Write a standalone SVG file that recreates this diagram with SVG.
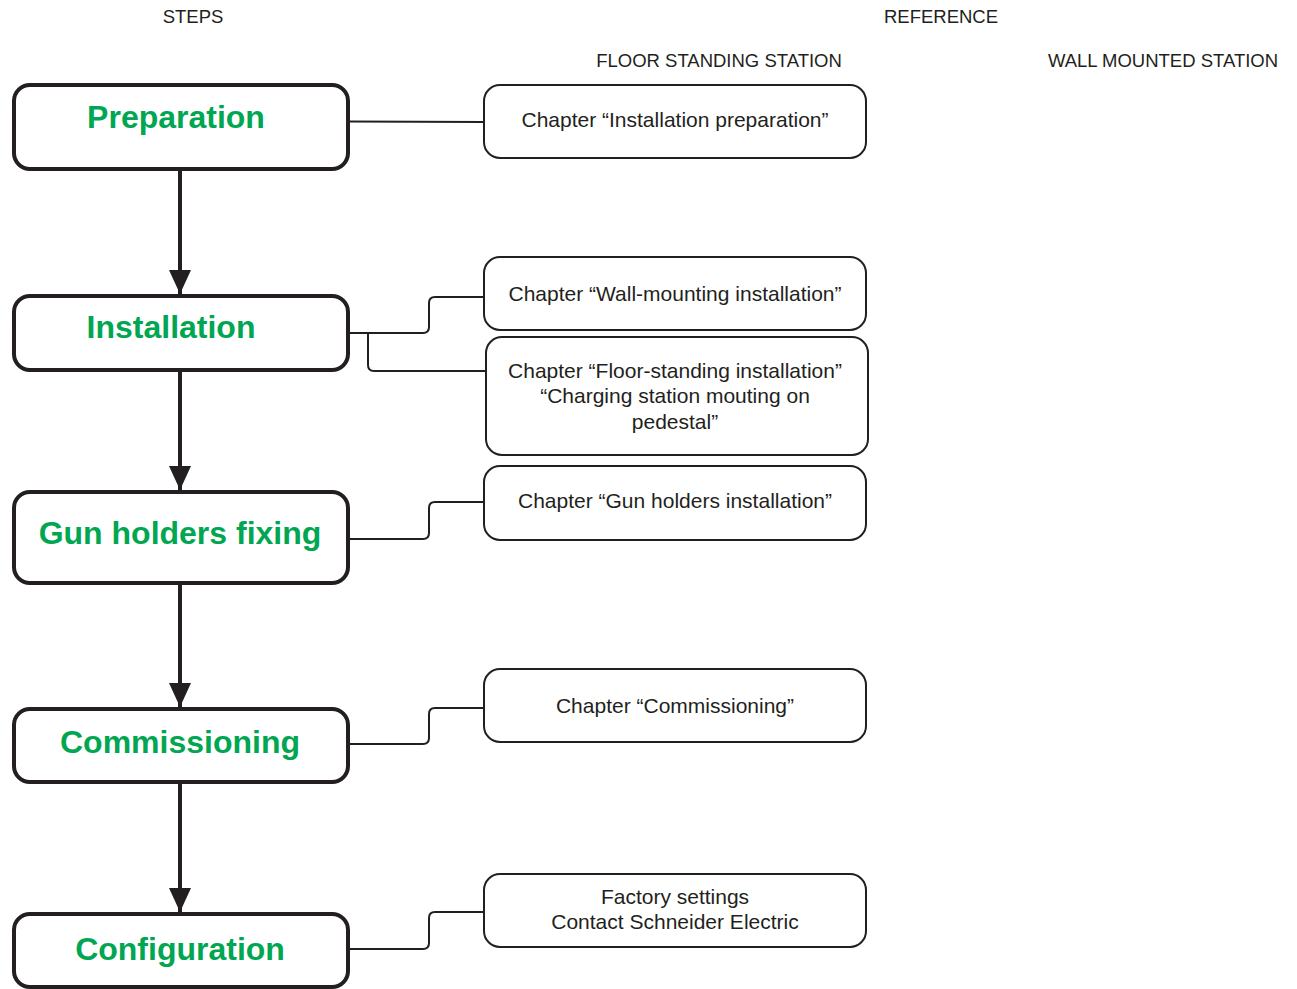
<svg xmlns="http://www.w3.org/2000/svg" width="1297" height="989" viewBox="0 0 1297 989">
<style>
.step rect{fill:#fff;stroke:#231f20;stroke-width:4}
.step text{font-family:"Liberation Sans",Arial,sans-serif;font-weight:bold;font-size:32px;fill:#00a651;text-anchor:middle}
.ref rect{fill:#fff;stroke:#231f20;stroke-width:2}
.ref text{font-family:"Liberation Sans",Arial,sans-serif;font-size:21px;fill:#231f20;text-anchor:middle}
.hdr{font-family:"Liberation Sans",Arial,sans-serif;font-size:18.5px;fill:#231f20;text-anchor:middle}
.arrow{stroke:#231f20;stroke-width:4;fill:none}
.link{stroke:#231f20;stroke-width:2;fill:none}
</style>
<defs>
<marker id="ah" markerWidth="24" markerHeight="22" refX="24" refY="11" orient="auto" markerUnits="userSpaceOnUse" viewBox="0 0 24 22">
<path d="M0,0 L24,11 L0,22 Z" fill="#231f20"/>
</marker>
</defs>
<g id="headers">
<text class="hdr" x="193" y="23">STEPS</text>
<text class="hdr" x="941" y="23">REFERENCE</text>
<text class="hdr" x="719" y="67">FLOOR STANDING STATION</text>
<text class="hdr" x="1163" y="67">WALL MOUNTED STATION</text>
</g>
<g id="connectors">
<path class="arrow" d="M180,169 V294" marker-end="url(#ah)"/>
<path class="arrow" d="M180,370 V490" marker-end="url(#ah)"/>
<path class="arrow" d="M180,583 V707" marker-end="url(#ah)"/>
<path class="arrow" d="M180,782 V912" marker-end="url(#ah)"/>
<path class="link" d="M348,121.5 L484,122"/>
<path class="link" d="M348,333 H423 Q429,333 429,327 V303 Q429,297 435,297 H484"/>
<path class="link" d="M368,333 V365 Q368,371 374,371 H486"/>
<path class="link" d="M348,539 H423 Q429,539 429,533 V508 Q429,502 435,502 H484"/>
<path class="link" d="M348,744 H423 Q429,744 429,738 V714 Q429,708 435,708 H484"/>
<path class="link" d="M348,949 H423 Q429,949 429,943 V918 Q429,912 435,912 H484"/>
</g>
<g id="step-preparation" class="step">
<rect x="14" y="85" width="334" height="84" rx="16"/>
<text x="176" y="128">Preparation</text>
</g>
<g id="step-installation" class="step">
<rect x="14" y="296" width="334" height="74" rx="16"/>
<text x="171" y="338">Installation</text>
</g>
<g id="step-gun" class="step">
<rect x="14" y="492" width="334" height="91" rx="16"/>
<text x="180" y="544">Gun holders fixing</text>
</g>
<g id="step-commissioning" class="step">
<rect x="14" y="709" width="334" height="73" rx="16"/>
<text x="180" y="753">Commissioning</text>
</g>
<g id="step-configuration" class="step">
<rect x="14" y="914" width="334" height="73" rx="16"/>
<text x="180" y="960">Configuration</text>
</g>
<g id="ref-prep" class="ref">
<rect x="484" y="85" width="382" height="73" rx="16"/>
<text x="675" y="127">Chapter “Installation preparation”</text>
</g>
<g id="ref-wall" class="ref">
<rect x="484" y="257" width="382" height="73" rx="16"/>
<text x="675" y="301">Chapter “Wall-mounting installation”</text>
</g>
<g id="ref-floor" class="ref">
<rect x="486" y="337" width="382" height="118" rx="16"/>
<text x="675" y="378">Chapter “Floor-standing installation”</text>
<text x="675" y="403">“Charging station mouting on</text>
<text x="675" y="429">pedestal”</text>
</g>
<g id="ref-gun" class="ref">
<rect x="484" y="466" width="382" height="74" rx="16"/>
<text x="675" y="508">Chapter “Gun holders installation”</text>
</g>
<g id="ref-comm" class="ref">
<rect x="484" y="669" width="382" height="73" rx="16"/>
<text x="675" y="713">Chapter “Commissioning”</text>
</g>
<g id="ref-config" class="ref">
<rect x="484" y="874" width="382" height="73" rx="16"/>
<text x="675" y="904">Factory settings</text>
<text x="675" y="929">Contact Schneider Electric</text>
</g>
</svg>
